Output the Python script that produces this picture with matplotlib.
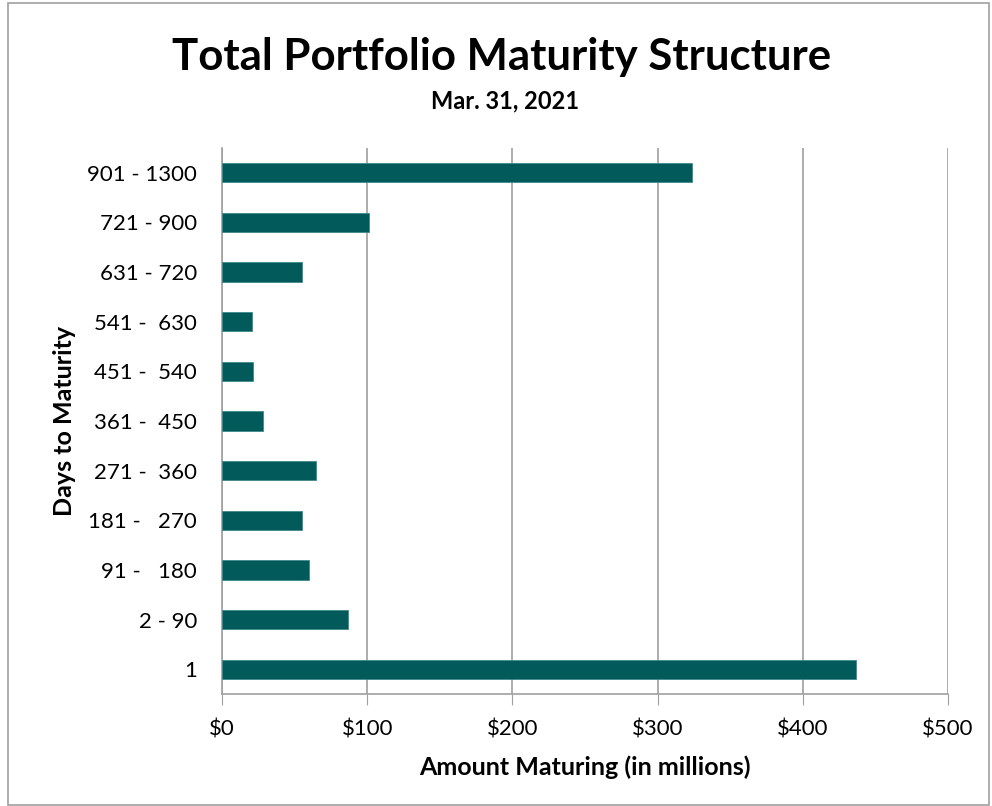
import matplotlib.pyplot as plt
from matplotlib.patches import Rectangle
from matplotlib.ticker import FuncFormatter

plt.rcParams['font.family'] = ['Lato', 'DejaVu Sans']

categories = ['1', '2 - 90', '91 -   180', '181 -   270', '271 -  360', '361 -  450',
              '451 -  540', '541 -  630', '631 - 720', '721 - 900', '901 - 1300']
amounts = [436.6, 87.0, 60.1, 55.3, 64.5, 28.0, 21.1, 20.4, 55.3, 101.4, 323.7]
xticks = [0, 100, 200, 300, 400, 500]

fig = plt.figure(figsize=(9.92, 8.06), dpi=100)
ax = fig.add_axes([222 / 992, 1 - 694 / 806, 726 / 992, 546 / 806])

ax.barh(range(len(categories)), amounts, height=0.39, color='#025A5A',
        edgecolor='#3f8a8a', linewidth=0.6, zorder=3)

ax.set_xlim(0, 500)
ax.set_ylim(-0.5, len(categories) - 0.5)
ax.set_yticks(range(len(categories)))
ax.set_yticklabels(categories, fontsize=16)
ax.set_xticks(xticks)
ax.xaxis.set_major_formatter(FuncFormatter(lambda v, p: '$%d' % v))
ax.tick_params(axis='x', labelsize=16, length=8, color='#a0a0a0', pad=10)
ax.tick_params(axis='y', length=0, pad=18)
ax.grid(axis='x', color='#a6a6a6', linewidth=1.3, zorder=0)

for s in ['top', 'right']:
    ax.spines[s].set_visible(False)
for s in ['left', 'bottom']:
    ax.spines[s].set_color('#a0a0a0')
    ax.spines[s].set_linewidth(1.2)

ax.set_xlabel('Amount Maturing (in millions)', fontsize=18, fontweight='bold', labelpad=12)
ax.set_ylabel('Days to Maturity', fontsize=18, fontweight='bold', labelpad=8)

fig.text(0.506, 1 - 57 / 806, 'Total Portfolio Maturity Structure', fontsize=31.5,
         fontweight='bold', ha='center', va='center')
fig.text(0.509, 1 - 101 / 806, 'Mar. 31, 2021', fontsize=17, fontweight='bold',
         ha='center', va='center')

fig.patches.append(Rectangle((8 / 992, 0.001), 981 / 992, 1 - 4 / 806, transform=fig.transFigure,
                             fill=False, edgecolor='#a0a0a0', linewidth=1.2))

fig.savefig('out.png', dpi=100)
